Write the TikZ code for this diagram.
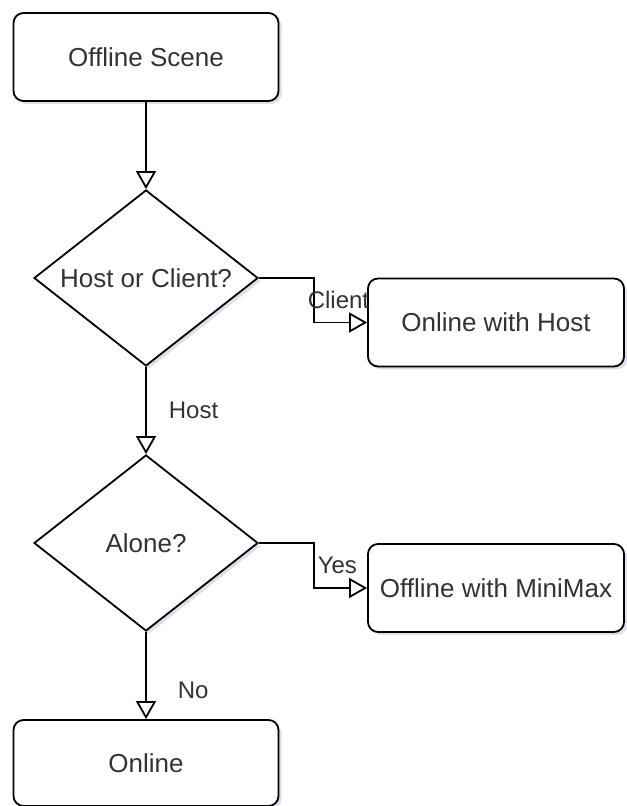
\documentclass[tikz,border=0pt]{standalone}
\usepackage{fontspec}
\setmainfont{Liberation Sans}
\usetikzlibrary{shapes.geometric,arrows.meta,shadows}

\tikzset{
    block/.style={draw, rounded corners=5pt, fill=white, line width=0.9pt,
        minimum width=132.5pt, minimum height=44pt, text=black!80,
        font=\fontsize{13}{15}\selectfont,
        drop shadow={shadow xshift=1.5pt, shadow yshift=-1.5pt, opacity=0.2, fill=blue!30!gray}},
    sidebox/.style={block, minimum width=128pt},
    decision/.style={draw, diamond, fill=white, line width=0.9pt, inner sep=0pt,
        minimum width=112pt, minimum height=88pt, text=black!80,
        font=\fontsize{13}{15}\selectfont,
        drop shadow={shadow xshift=1.5pt, shadow yshift=-1.5pt, opacity=0.2, fill=blue!30!gray}},
    edgelabel/.style={inner sep=0pt, text=black!80, font=\fontsize{12}{14}\selectfont},
    flow/.style={line width=0.9pt, -{Triangle[open, length=9pt, width=10pt]}}
}

\begin{document}
\begin{tikzpicture}[x=0.5pt, y=-0.5pt]
            \useasboundingbox (0,0) rectangle (626,806);

            \node[block] (scene) at (146,57) {Offline Scene};
            \node[decision] (hostq) at (146,278) {\makebox[0pt]{Host or Client?}};
            \node[sidebox] (withhost) at (496,322.5) {Online with Host};
            \node[decision] (alone) at (146,543) {\makebox[0pt]{Alone?}};
            \node[sidebox] (minimax) at (496,588) {Offline with MiniMax};
            \node[block, minimum height=43pt] (online) at (146,763) {Online};

            \draw[flow] (scene) -- (hostq);
            \draw[flow] (hostq.east) -- ++(55,0) |- node[pos=0.25, edgelabel, right=-3.5pt] {Client} (withhost.west);
            \draw[flow] (hostq) -- (alone) node[midway, edgelabel, right=11pt] {Host};
            \draw[flow] (alone.east) -- ++(55,0) |- node[pos=0.25, edgelabel, right=1.5pt] {Yes} (minimax.west);
            \draw[flow] (alone) -- (online) node[pos=0.67, edgelabel, right=15.5pt] {No};
        \end{tikzpicture}
\end{document}
